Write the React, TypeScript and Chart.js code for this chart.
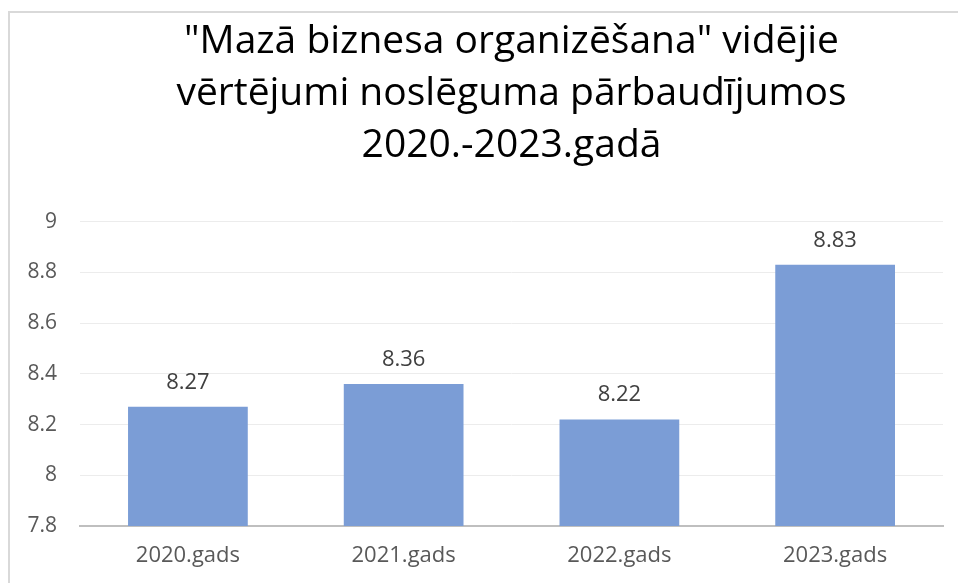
import React, { useEffect, useRef } from "react";
import { Chart, registerables } from "chart.js";

Chart.register(...registerables);

const categories = ["2020.gads", "2021.gads", "2022.gads", "2023.gads"];
const values = [8.27, 8.36, 8.22, 8.83];
const titleLines = ['"Mazā biznesa organizēšana" vidējie', "vērtējumi noslēguma pārbaudījumos", "2020.-2023.gadā"];
const yMin = 7.8;
const yMax = 9;
const yStep = 0.2;

const FONT = "'Open Sans', sans-serif";

const dataLabelPlugin = {
  id: "dataLabels",
  afterDatasetsDraw(chart: any) {
    const ctx = chart.ctx;
    const meta = chart.getDatasetMeta(0);
    ctx.save();
    ctx.font = `22px ${FONT}`;
    ctx.fillStyle = "#404040";
    ctx.textAlign = "center";
    ctx.textBaseline = "alphabetic";
    meta.data.forEach((bar: any, i: number) => {
      const v = chart.data.datasets[0].data[i];
      ctx.fillText(String(v), bar.x, bar.y - 18);
    });
    ctx.restore();
  },
};

export default function App() {
  const ref = useRef<HTMLCanvasElement | null>(null);

  useEffect(() => {
    document.body.style.margin = "0";
    if (!ref.current) return;
    const chart = new Chart(ref.current, {
      type: "bar",
      data: {
        labels: categories,
        datasets: [
          {
            data: values,
            backgroundColor: "#7b9dd6",
            borderWidth: 0,
            categoryPercentage: 1,
            barPercentage: 0.555,
          },
        ],
      },
      options: {
        responsive: false,
        animation: false,
        layout: { padding: { left: 4.5, right: 15, top: 16, bottom: 5 } },
        plugins: {
          legend: { display: false },
          tooltip: { enabled: false },
          title: {
            display: true,
            text: titleLines,
            fullSize: false,
            color: "#000000",
            font: { family: FONT, size: 39, weight: "normal", lineHeight: 1.33 },
            padding: { top: 0, bottom: 50 },
          },
        },
        scales: {
          x: {
            grid: { display: false },
            border: { display: true, color: "#bfbfbf", width: 2 },
            ticks: {
              color: "#595959",
              font: { family: FONT, size: 22 },
              padding: 8.8,
            },
          },
          y: {
            min: yMin,
            max: yMax,
            border: { display: false },
            grid: { color: "#ececec", lineWidth: 1, drawTicks: false },
            ticks: {
              stepSize: yStep,
              color: "#595959",
              font: { family: FONT, size: 21 },
              padding: 23,
              callback: (v: any) => String(Math.round(Number(v) * 10) / 10),
            },
          },
        },
      },
      plugins: [dataLabelPlugin],
    });
    return () => chart.destroy();
  }, []);

  return (
    <div style={{ position: "relative", width: 958, height: 583, background: "#fff", overflow: "hidden" }}>
      <div
        style={{
          position: "absolute",
          left: 8,
          top: 11,
          width: 980,
          height: 600,
          borderLeft: "2px solid #d9d9d9",
          borderTop: "2px solid #d9d9d9",
          boxSizing: "border-box",
        }}
      />
      <canvas ref={ref} width={958} height={583} style={{ position: "absolute", left: 0, top: 0, display: "block" }} />
    </div>
  );
}
